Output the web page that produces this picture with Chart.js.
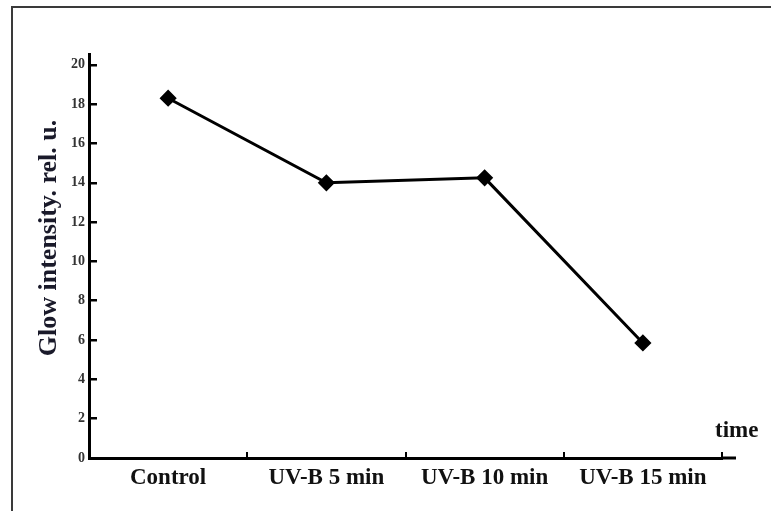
<!DOCTYPE html>
<html>
<head>
<meta charset="utf-8">
<script src="https://cdn.jsdelivr.net/npm/chart.js@4"></script>
<style>
  html, body { margin: 0; padding: 0; background: #fff; overflow: hidden; }
  #wrap { position: relative; width: 771px; height: 511px; }
  #frame { position: absolute; left: 11px; top: 6px; width: 900px; height: 700px; border: 2px solid #3a3a3a; }
  canvas { position: absolute; left: 0; top: 0; }
</style>
</head>
<body>
<div id="wrap">
  <div id="frame"></div>
  <canvas id="glowChart" width="771" height="511"></canvas>
</div>
<script>
const categories = ["Control", "UV-B 5 min", "UV-B 10 min", "UV-B 15 min"];
const glowValues = [18.3, 14.0, 14.25, 5.85];
const yTickValues = [0, 2, 4, 6, 8, 10, 12, 14, 16, 18, 20];
const yTitle = "Glow intensity. rel. u.";
const xTitle = "time";

const serif = "'Liberation Serif', 'Times New Roman', serif";

// axis title, x-axis overhang and "time" label
const extras = {
  id: "extras",
  afterDraw(chart) {
    const c = chart.ctx;
    const area = chart.chartArea;
    c.save();
    c.strokeStyle = "#000";
    c.lineWidth = 3;
    c.beginPath();
    c.moveTo(area.right - 1, area.bottom);
    c.lineTo(area.right + 14, area.bottom);
    c.stroke();

    c.fillStyle = "#111";
    c.font = "bold 23px " + serif;
    c.textAlign = "left";
    c.textBaseline = "alphabetic";
    c.fillText(xTitle, area.right - 7, area.bottom - 21);

    c.translate(49, 238);
    c.rotate(-Math.PI / 2);
    c.font = "bold 26px " + serif;
    c.textAlign = "center";
    c.textBaseline = "middle";
    c.fillStyle = "#1a1a2a";
    c.fillText(yTitle, 0, 0);
    c.restore();
  }
};

new Chart(document.getElementById("glowChart").getContext("2d"), {
  type: "line",
  data: {
    labels: categories,
    datasets: [{
      data: glowValues,
      borderColor: "#000",
      backgroundColor: "#000",
      borderWidth: 3,
      pointStyle: "rectRot",
      pointRadius: 6.5,
      pointHoverRadius: 6.5,
      tension: 0
    }]
  },
  options: {
    responsive: false,
    animation: false,
    devicePixelRatio: 1,
    layout: { padding: { left: 29, top: 54, right: 49, bottom: 13 } },
    plugins: { legend: { display: false }, tooltip: { enabled: false } },
    scales: {
      x: {
        offset: true,
        grid: { offset: true, drawOnChartArea: false, color: "#000", lineWidth: 2, tickLength: -6 },
        border: { display: true, color: "#000", width: 3 },
        ticks: { color: "#111", padding: 12, maxRotation: 0, font: { family: serif, size: 23, weight: "bold" } },
        afterFit(scale) { scale.height = 40; }
      },
      y: {
        min: 0,
        max: 20.55,
        afterBuildTicks(scale) { scale.ticks = yTickValues.map(v => ({ value: v })); },
        grid: { drawOnChartArea: false, color: "#000", lineWidth: 2.5, tickLength: -8 },
        border: { display: true, color: "#000", width: 3 },
        ticks: { color: "#333", padding: 12, font: { family: serif, size: 14, weight: "bold" } },
        afterFit(scale) { scale.width = 60; }
      }
    }
  },
  plugins: [extras]
});
</script>
</body>
</html>
